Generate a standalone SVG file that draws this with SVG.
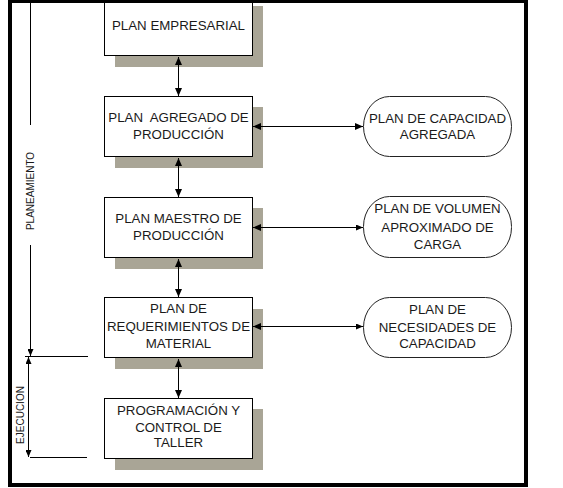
<svg xmlns="http://www.w3.org/2000/svg" width="563" height="488" viewBox="0 0 563 488">
<defs>
<marker id="ah" viewBox="0 0 8 7" refX="8" refY="3.5" markerWidth="8" markerHeight="7" markerUnits="userSpaceOnUse" orient="auto-start-reverse">
<path d="M0,0 L8,3.5 L0,7 z" fill="#000"/>
</marker>
<marker id="ahs" viewBox="0 0 7 6" refX="7" refY="3" markerWidth="7" markerHeight="6" markerUnits="userSpaceOnUse" orient="auto-start-reverse">
<path d="M0,0 L7,3 L0,6 z" fill="#000"/>
</marker>
</defs>
<style>
.shadow{fill:#a9a596;stroke:none}
.box{fill:#fff;stroke:#000;stroke-width:1}
.oval{fill:#fff;stroke:#222;stroke-width:1}
.t{font-family:"Liberation Sans",Arial,sans-serif;font-size:13.3px;fill:#1a1a1a;text-anchor:middle;white-space:pre}
.s{font-family:"Liberation Sans",Arial,sans-serif;font-size:10px;fill:#1a1a1a;text-anchor:middle}
.c{stroke:#000;stroke-width:1;fill:none}
</style>
<rect x="0" y="0" width="563" height="488" fill="#fff"/>

<g id="plan-empresarial">
<rect class="shadow" x="115" y="6" width="148" height="61"/>
<rect class="box" x="104.5" y="-5.5" width="148" height="61"/>
<text class="t" x="178.5" y="30">PLAN EMPRESARIAL</text>
</g>

<g id="plan-agregado">
<rect class="shadow" x="115" y="107" width="148" height="61"/>
<rect class="box" x="104.5" y="96.5" width="148" height="60"/>
<text class="t" x="178.5" y="122" xml:space="preserve">PLAN  AGREGADO DE</text>
<text class="t" x="178.5" y="139">PRODUCCIÓN</text>
</g>

<g id="plan-maestro">
<rect class="shadow" x="115" y="208" width="148" height="61"/>
<rect class="box" x="104.5" y="197.5" width="148" height="60"/>
<text class="t" x="178.5" y="222.5">PLAN MAESTRO DE</text>
<text class="t" x="178.5" y="239.5">PRODUCCIÓN</text>
</g>

<g id="plan-requerimientos">
<rect class="shadow" x="115" y="309" width="148" height="60"/>
<rect class="box" x="104.5" y="297.5" width="148" height="60"/>
<text class="t" x="178.5" y="313">PLAN DE</text>
<text class="t" x="178.5" y="331">REQUERIMIENTOS DE</text>
<text class="t" x="178.5" y="348">MATERIAL</text>
</g>

<g id="programacion">
<rect class="shadow" x="115" y="409" width="148" height="61"/>
<rect class="box" x="104.5" y="398.5" width="148" height="60"/>
<text class="t" x="178.5" y="415">PROGRAMACIÓN Y</text>
<text class="t" x="178.5" y="431.5">CONTROL DE</text>
<text class="t" x="178.5" y="447">TALLER</text>
</g>

<g id="capacidad-agregada">
<rect class="oval" x="363.5" y="96.5" width="148" height="60" rx="26" ry="30"/>
<text class="t" x="437.5" y="122.5">PLAN DE CAPACIDAD</text>
<text class="t" x="437.5" y="139">AGREGADA</text>
</g>

<g id="volumen-carga">
<rect class="oval" x="363.5" y="196.5" width="148" height="61" rx="26" ry="30"/>
<text class="t" x="437.5" y="213">PLAN DE VOLUMEN</text>
<text class="t" x="437.5" y="231.5">APROXIMADO DE</text>
<text class="t" x="437.5" y="248.5">CARGA</text>
</g>

<g id="necesidades-capacidad">
<rect class="oval" x="363.5" y="297.5" width="148" height="60" rx="26" ry="30"/>
<text class="t" x="437.5" y="314">PLAN DE</text>
<text class="t" x="437.5" y="331.5">NECESIDADES DE</text>
<text class="t" x="437.5" y="348">CAPACIDAD</text>
</g>

<g id="connectors">
<line class="c" x1="178.5" y1="57" x2="178.5" y2="96" marker-start="url(#ah)" marker-end="url(#ah)"/>
<line class="c" x1="178.5" y1="158" x2="178.5" y2="197" marker-start="url(#ah)" marker-end="url(#ah)"/>
<line class="c" x1="178.5" y1="259" x2="178.5" y2="297" marker-start="url(#ah)" marker-end="url(#ah)"/>
<line class="c" x1="178.5" y1="359" x2="178.5" y2="398" marker-start="url(#ah)" marker-end="url(#ah)"/>
<line class="c" x1="253" y1="126.5" x2="363" y2="126.5" marker-start="url(#ah)" marker-end="url(#ah)"/>
<line class="c" x1="253" y1="227.5" x2="363" y2="227.5" marker-start="url(#ah)" marker-end="url(#ahs)"/>
<line class="c" x1="253" y1="326.5" x2="363" y2="326.5" marker-start="url(#ah)" marker-end="url(#ahs)"/>
</g>

<g id="planeamiento">
<line class="c" x1="30.5" y1="-5" x2="30.5" y2="125"/>
<line class="c" x1="30.5" y1="245" x2="30.5" y2="356" marker-end="url(#ahs)"/>
<text class="s" transform="translate(34,191) rotate(-90)">PLANEAMIENTO</text>
<line class="c" x1="25" y1="356.5" x2="88" y2="356.5"/>
</g>

<g id="ejecucion">
<line class="c" x1="28.5" y1="357" x2="28.5" y2="457" marker-start="url(#ahs)" marker-end="url(#ahs)"/>
<text class="s" transform="translate(24,415) rotate(-90)">EJECUCION</text>
<line class="c" x1="30" y1="457.5" x2="87" y2="457.5"/>
</g>

<rect x="10" y="1" width="516" height="484" fill="none" stroke="#000" stroke-width="4"/>
</svg>
